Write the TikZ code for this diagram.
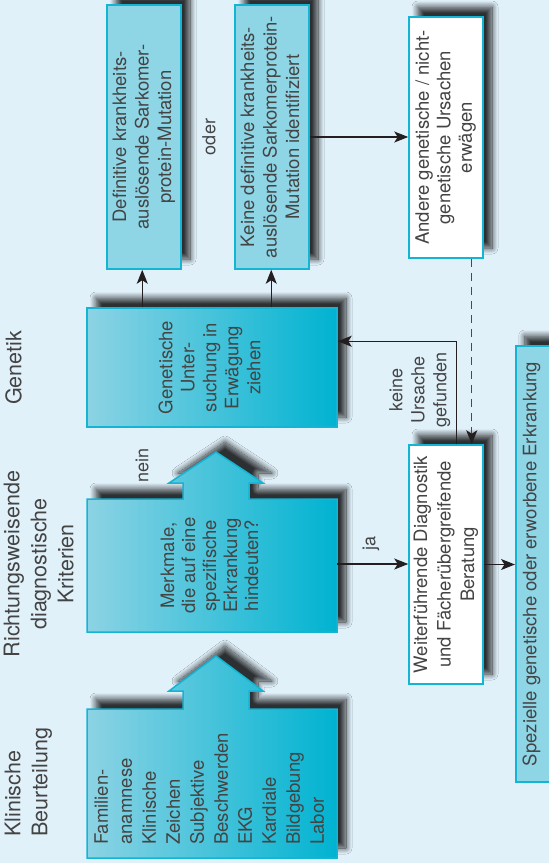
\documentclass[tikz,border=0pt]{standalone}
\usepackage{fontspec}
\usepackage{graphicx}
\setmainfont{TeX Gyre Heros}
\usetikzlibrary{arrows.meta,shadows.blur}

\definecolor{bg}{HTML}{E1F1FA}
\definecolor{cyanline}{HTML}{14B4D4}
\definecolor{paleCyan}{HTML}{8ED5E6}
\definecolor{gradL}{HTML}{8CD3E4}
\definecolor{gradR}{HTML}{00B3D1}
\definecolor{ink}{HTML}{444444}
\definecolor{wire}{HTML}{231F20}
\definecolor{dashgray}{HTML}{4A4A4A}

% vertical (bottom-to-top) multi-line text
\newcommand{\vlines}[2][c]{\rotatebox{90}{\begin{tabular}{@{}#1@{}}#2\end{tabular}}}
\newcommand{\setfs}[2]{\fontsize{#1}{#2}\selectfont}

\begin{document}
\begin{tikzpicture}[x=1pt,y=-1pt,
  boxshadow/.style={blur shadow={shadow xshift=9pt, shadow yshift=10pt,
      shadow blur radius=6pt, shadow opacity=80, shadow blur steps=14}},
  gradbox/.style={left color=gradL, right color=gradR, draw=cyanline, line width=1.5pt},
  palebox/.style={fill=paleCyan, draw=cyanline, line width=1.5pt, inner sep=0pt},
  whitebox/.style={fill=white, draw=cyanline, line width=1.5pt, inner sep=0pt},
  txt/.style={inner sep=0pt, text=ink},
  conn/.style={draw=wire, line width=1.1pt, -{Stealth[length=14pt,width=11pt,inset=3.5pt]}},
  dashconn/.style={draw=dashgray, line width=1.3pt, dash pattern=on 8pt off 6pt,
      -{Stealth[length=14pt,width=11pt,inset=3.5pt,color=wire,fill=wire]}}
]
\useasboundingbox (0,0) rectangle (549,863);
\clip (0,0) rectangle (549,863);
\fill[bg] (0,0) rectangle (549,863);

% ---- column headings ----
\node[txt, font=\setfs{21.5}{27}, anchor=south] (hKlin) at (28.5,837)
  {\vlines[l]{Klinische\\Beurteilung}};
\node[txt, font=\setfs{21.5}{27}] (hRicht) at (41,564)
  {\vlines{Richtungsweisende\\diagnostische\\Kriterien}};
\node[txt, font=\setfs{21.5}{27}] (hGen) at (16,368) {\vlines{Genetik}};

% ---- block arrows: clinical assessment and criteria ----
\path[gradbox, boxshadow] (87,858) -- (87,709) -- (183,709) -- (183,691) -- (169,691)
  -- (216,656) -- (263,691) -- (249,691) -- (249,709) -- (337,709) -- (337,858) -- cycle;
\path[gradbox, boxshadow] (87,632) -- (87,499) -- (183,499) -- (183,483) -- (169,483)
  -- (216,452) -- (263,483) -- (249,483) -- (249,499) -- (337,499) -- (337,632) -- cycle;

\node[txt, minimum width=250pt, minimum height=149pt] (klin) at (212,783.5) {};
\node[txt, font=\setfs{18.5}{24}, anchor=south] (klinText) at (211,845)
  {\vlines[l]{Familien-\\anamnese\\Klinische\\Zeichen\\Subjektive\\Beschwerden\\EKG\\Kardiale\\Bildgebung\\Labor}};

\node[txt, minimum width=250pt, minimum height=133pt, font=\setfs{18.5}{21}] (merk) at (212,565.5)
  {\vlines{Merkmale,\\die auf eine\\spezifische\\Erkrankung\\hindeuten?}};

% ---- genetics ----
\node[gradbox, boxshadow, inner sep=0pt, minimum width=250pt, minimum height=119pt,
  text=ink, font=\setfs{18.5}{22}] (gen) at (212,367.5)
  {\vlines{Genetische\\Unter-\\suchung in\\Erwägung\\ziehen}};

\node[palebox, boxshadow, minimum width=74pt, minimum height=264pt,
  text=ink, font=\setfs{18.5}{22.5}] (defi) at (144,137)
  {\vlines{Definitive krankheits-\\auslösende Sarkomer-\\protein-Mutation}};
\node[palebox, boxshadow, minimum width=74pt, minimum height=264pt,
  text=ink, font=\setfs{18.5}{22.5}] (keine) at (272,137)
  {\vlines{Keine definitive krankheits-\\auslösende Sarkomerprotein-\\Mutation identifiziert}};
\node[whitebox, boxshadow, minimum width=74pt, minimum height=241pt,
  text=ink, font=\setfs{18.5}{21.5}] (andere) at (446,137.5)
  {\vlines{Andere genetische / nicht-\\genetische Ursachen\\erwägen}};

\node[whitebox, boxshadow, minimum width=74pt, minimum height=239pt,
  text=ink, font=\setfs{18.5}{23.5}] (weiter) at (446,564.5)
  {\vlines{Weiterführende Diagnostik\\und Fächerübergreifende\\Beratung}};

\node[palebox, boxshadow, minimum width=80pt, minimum height=436pt, anchor=west] (spez) at (515,564) {};
\node[txt, font=\setfs{18.5}{22}] (spezText) at (532,564)
  {\vlines{Spezielle genetische oder erworbene Erkrankung}};

% ---- labels ----
\node[txt, font=\setfs{18}{22}] (oder) at (211,137) {\vlines{oder}};
\node[txt, font=\setfs{18}{22}] (nein) at (144,465) {\vlines{nein}};
\node[txt, font=\setfs{18}{22}] (ja) at (371,543) {\vlines{ja}};
\node[txt, font=\setfs{18}{22}] (keineU) at (420,390) {\vlines{keine\\Ursache\\gefunden}};

% ---- connectors ----
\draw[conn] (gen.north west) ++(56,0) coordinate (g1) -- (g1 |- defi.south);
\draw[conn] (gen.north west) ++(185,0) coordinate (g2) -- (g2 |- keine.south);
\draw[conn] (keine.east) -- (keine.east -| andere.west);
\draw[dashconn] (andere.south east) ++(-12,0) coordinate (a1) -- (a1 |- weiter.north);
\draw[conn] (weiter.north west) ++(48,0) coordinate (w1) -- ++(0,-103) coordinate (w2)
  -- (w2 -| gen.east);
\draw[conn] (merk.east) ++(0,-1.5) coordinate (m1) -- (m1 -| weiter.west);
\draw[conn] (weiter.east) -- (weiter.east -| spez.west);
\end{tikzpicture}
\end{document}
